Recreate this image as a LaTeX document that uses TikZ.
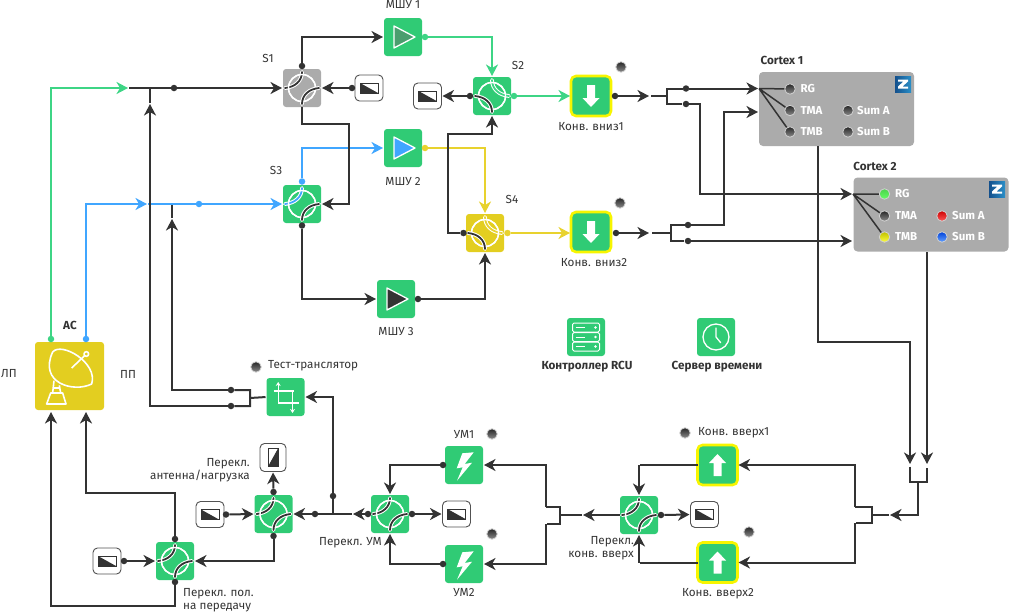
\documentclass[tikz,border=0pt]{standalone}
\usepackage{fontspec}
\setmainfont{Fira Sans}
\usetikzlibrary{arrows.meta, positioning}

\definecolor{boxgreen}{HTML}{30CB75}
\definecolor{wiregreen}{HTML}{3DD585}
\definecolor{wireblue}{HTML}{40A6FF}
\definecolor{wireyellow}{HTML}{E8D22E}
\definecolor{boxgray}{HTML}{ABABAB}
\definecolor{boxyellow}{HTML}{E3CE20}
\definecolor{dark}{HTML}{333333}
\definecolor{amber}{HTML}{F7F500}
\definecolor{ampgreen}{HTML}{4A9E6E}
\definecolor{logoleft}{HTML}{14508C}
\definecolor{logoright}{HTML}{2A8FC8}

\newcommand{\swarcs}[2]{%
  \draw[white,line width=1.4pt] (0,0) circle (13.5);
  \draw[white,line width=3.8pt,line cap=round] #1;
  \draw[#2,line width=1.8pt,line cap=round] #1;
}
\newcommand{\arcTL}{(0,-16) .. controls (0,-7) and (-7,-1) .. (-17,0)}
\newcommand{\arcBR}{(0,16) .. controls (0,7) and (7,1) .. (17,0)}
\newcommand{\arcTR}{(0,-16) .. controls (0,-7) and (7,-1) .. (17,0)}
\newcommand{\arcLB}{(-17,0) .. controls (-7,1) and (0,7) .. (0,16)}

\tikzset{
  x=1pt,y=-1pt,
  >={Stealth[length=11.5pt,width=12pt,inset=3.5pt]},
  wire/.style={dark,line width=2pt,shorten >=1pt},
  green wire/.style={wire,wiregreen},
  blue wire/.style={wire,wireblue},
  yellow wire/.style={wire,wireyellow},
  dot/.style={circle,fill=dark,inner sep=0pt,minimum size=6.5pt},
  label/.style={font=\fontsize{11.7}{13.5}\selectfont,text=dark,inner sep=0pt},
  bold label/.style={label,font=\fontsize{11.7}{13.5}\selectfont\bfseries},
  cortex label/.style={font=\fontsize{11.5}{13}\selectfont\bfseries,text=white,inner sep=0pt,anchor=west},
  box node/.style={rectangle,rounded corners=3pt,fill=boxgreen,minimum size=38pt,inner sep=0pt,outer sep=0pt},
  sw a/.style n args={3}{box node,fill=#1,path picture={
    \begin{scope}[shift={(path picture bounding box.center)},sharp corners]
      \swarcs{\arcTL}{#2}\swarcs{\arcBR}{#3}
    \end{scope}}},
  sw b/.style n args={3}{box node,fill=#1,path picture={
    \begin{scope}[shift={(path picture bounding box.center)},sharp corners]
      \swarcs{\arcTR}{#2}\swarcs{\arcLB}{#3}
    \end{scope}}},
  amp node/.style={box node,path picture={
    \draw[white,fill=#1,line width=1.3pt,sharp corners,line join=round,shift={(path picture bounding box.center)}]
      (-9,-11) -- (12,0) -- (-9,11) -- cycle;}},
  conv down node/.style={box node,rounded corners=5pt,draw=amber,line width=2.6pt,minimum size=40pt,path picture={
    \fill[white,sharp corners,shift={(path picture bounding box.center)}]
      (-4,-11) -- (4,-11) -- (4,2) -- (8.5,2) -- (0,11) -- (-8.5,2) -- (-4,2) -- cycle;}},
  conv up node/.style={box node,rounded corners=5pt,draw=amber,line width=2.6pt,minimum size=40pt,path picture={
    \fill[white,sharp corners,shift={(path picture bounding box.center)}]
      (-4,11) -- (4,11) -- (4,-2) -- (8.5,-2) -- (0,-11) -- (-8.5,-2) -- (-4,-2) -- cycle;}},
  bolt node/.style={box node,path picture={
    \fill[white,sharp corners,shift={(path picture bounding box.center)}]
      (9.7,-12.7) -- (-1.7,-11.7) -- (-7.3,3.3) -- (-1.3,2.3) -- (-7,15.7) -- (8,-2.3) -- (0.7,-1) -- cycle;}},
  load node/.style={rectangle,rounded corners=4.5pt,draw=dark!85,fill=white,line width=.9pt,
    minimum width=28pt,minimum height=26pt,inner sep=0pt,outer sep=0pt,path picture={
    \begin{scope}[shift={(path picture bounding box.center)},sharp corners]
      \fill[dark] (-9,-5) -- (9,5) -- (-9,5) -- cycle;
      \draw[dark,line width=.9pt] (-9,-5) rectangle (9,5);
    \end{scope}}},
  load up node/.style={rectangle,rounded corners=4.5pt,draw=dark!85,fill=white,line width=.9pt,
    minimum width=26pt,minimum height=28pt,inner sep=0pt,outer sep=0pt,path picture={
    \begin{scope}[shift={(path picture bounding box.center)},sharp corners]
      \fill[dark] (5,-9) -- (5,9) -- (-5,9) -- cycle;
      \draw[dark,line width=.9pt] (-5,-9) rectangle (5,9);
    \end{scope}}},
  cortex node/.style={rectangle,rounded corners=4pt,fill=boxgray,minimum width=155pt,minimum height=74pt,inner sep=0pt,outer sep=0pt},
  led/.style 2 args={circle,minimum size=10.5pt,inner sep=0pt,draw=black!18,line width=.8pt,
    top color=#1,bottom color=#2},
  gray led/.style={led={black!85}{black!45}},
  logo/.style={rectangle,minimum size=16pt,inner sep=0pt,left color=logoleft,right color=logoright,path picture={
    \begin{scope}[shift={(path picture bounding box.center)},sharp corners]
      \fill[white] (-5,-4.5) -- (5,-4.5) -- (5,-2.5) -- (-.5,2.5) -- (5,2.5) -- (5,4.5) -- (-5,4.5) -- (-5,2.5) -- (.5,-2.5) -- (-5,-2.5) -- cycle;
    \end{scope}}},
}

\begin{document}
\begin{tikzpicture}
  \useasboundingbox (0,0) rectangle (1009,613);

  \node[box node,fill=boxyellow,minimum width=69pt,minimum height=68pt] (ac) at (69.5,376) {};
  \begin{scope}[shift={(30,338)},x=.3333pt,y=-.3333pt,white,line width=1.6pt,line join=round]
    \draw (68,42) .. controls (95,10) and (205,75) .. (185,138) .. controls (130,165) and (25,135) .. (68,42);
    \draw (125,90) -- (165,52);
    \draw (169,48) circle (7);
    \draw (72,128) -- (68,165) (88,142) -- (92,165) (70,150) -- (90,150);
    \draw (62,165) -- (98,165) -- (108,198) -- (50,198) -- cycle;
  \end{scope}

  \node[sw a={boxgray}{dark}{dark}] (s1) at (302,88) {};
  \node[sw b={boxgreen}{wiregreen}{dark}] (s2) at (492,96) {};
  \node[sw a={boxgreen}{wireblue}{dark}] (s3) at (302,204) {};
  \node[sw b={boxyellow}{wireyellow}{dark}] (s4) at (485,233) {};
  \node[sw a={boxgreen}{dark}{dark}] (swant) at (273.5,514) {};
  \node[sw a={boxgreen}{dark}{dark}] (swpol) at (175,561) {};
  \node[sw a={boxgreen}{dark}{dark}] (swum) at (390,514) {};
  \node[sw a={boxgreen}{dark}{dark}] (swup) at (639,515) {};

  \node[amp node=ampgreen] (msu1) at (403,37) {};
  \node[amp node=wireblue] (msu2) at (403,148) {};
  \node[amp node=dark] (msu3) at (396,299) {};

  \node[conv down node] (down1) at (591,96) {};
  \node[conv down node] (down2) at (591,232) {};
  \node[conv up node] (up1) at (717.5,465) {};
  \node[conv up node] (up2) at (717.5,562.5) {};

  \node[bolt node] (um1) at (464,465) {};
  \node[bolt node] (um2) at (464,564) {};

  \node[load node] (load1) at (369,88) {};
  \node[load node] (load2) at (427.5,96) {};
  \node[load node] (load3) at (210,514.5) {};
  \node[load node] (load4) at (107,561) {};
  \node[load node] (load5) at (456.5,514) {};
  \node[load node] (load6) at (704.5,514.5) {};
  \node[load up node] (load7) at (273,457.5) {};

  \node[box node] (test) at (285.5,397) {};
  \begin{scope}[shift={(test.center)},white,line width=1.2pt]
    \draw (-12,-6) -- (8,-6);
    \draw[-{Stealth[length=4pt,width=5pt]}] (-7.3,6) -- (-7.3,-15);
    \draw (-7.3,6) -- (13,6);
    \draw[-{Stealth[length=4pt,width=5pt]}] (7,-6) -- (7,16);
  \end{scope}

  \node[box node] (rcu) at (586,337) {};
  \begin{scope}[shift={(rcu.center)},white,line width=1pt]
    \draw[rounded corners=1.5pt] (-13.5,-14) rectangle (13.5,-5);
    \draw[rounded corners=1.5pt] (-13.5,-4.5) rectangle (13.5,4.5);
    \draw[rounded corners=1.5pt] (-13.5,5) rectangle (13.5,14);
    \draw (-10.5,-9.5) -- (-1.5,-9.5) (-10.5,0) -- (-1.5,0) (-10.5,9.5) -- (-1.5,9.5);
    \fill (9.5,-9.5) circle (1.3) (9.5,0) circle (1.3) (9.5,9.5) circle (1.3);
  \end{scope}

  \node[box node] (clock) at (716,337) {};
  \begin{scope}[shift={(clock.center)},white,line width=1.3pt]
    \draw (0,0) circle (13);
    \draw[line cap=round] (0,-9) -- (0,0) -- (4.7,5.7);
  \end{scope}

  \node[cortex node] (cortex1) at (836.5,109) {};
  \node[cortex node] (cortex2) at (931,214.5) {};
  \node[logo] (logo1) at (903,84) {};
  \node[logo] (logo2) at (997,189) {};

  \coordinate (hub1) at (759,88.5);
  \coordinate (hub2) at (853,194);
  \coordinate (hub1b) at (759,112);
  \coordinate (acl) at (51,411);
  \coordinate (acr) at (86,411);

  \node[dot,fill=wiregreen] (acg) at (51,339) {};
  \node[dot,fill=wireblue] (acb) at (86,339) {};
  \coordinate (greenend) at (129,88);
  \coordinate (blueend) at (148,204);
  \node[dot] (in1) at (174,88) {};
  \node[dot,fill=wireblue] (in3) at (199,204) {};

  \node[dot] (s1t) at (302,66) {};
  \node[dot] (s1r) at (352,88) {};
  \node[dot,fill=wireblue] (s3t) at (302,181.5) {};
  \node[dot] (s3b) at (302,225.5) {};
  \node[dot,fill=wiregreen] (m1r) at (425,37) {};
  \node[dot,fill=wireyellow] (m2r) at (425,148) {};
  \node[dot] (m3r) at (418,299) {};
  \node[dot,fill=wiregreen] (s2r) at (514,96) {};
  \node[dot] (s2l) at (470,96) {};
  \node[dot] (s4l) at (463.5,233) {};
  \node[dot,fill=wireyellow] (s4r) at (507.5,233) {};

  \draw[green wire,->] (acg) |- (greenend);
  \draw[blue wire,->] (acb) |- (blueend);
  \draw[blue wire,->] (blueend) -- (s3.west);
  \draw[blue wire,->] (s3t) |- (msu2.west);
  \draw[green wire,->] (m1r) -| (s2.north);
  \draw[yellow wire,->] (m2r) -| (s4.north);
  \draw[green wire,->] (s2r) -- (down1.west);
  \draw[yellow wire,->] (s4r) -- (down2.west |- s4r);

  \draw[wire,->] (greenend) -- (s1.west);
  \draw[wire,->] (s1t) |- (msu1.west);
  \draw[wire,->] (s1r) -- (s1.east);
  \draw[wire,->] (s1.south) -- (302,124) -- (349,124) |- (s3.east);
  \draw[wire,->] (s2l) -- (load2.east);
  \draw[wire,->] (s4l) -- (448,233) |- (492,134) -- (s2.south);
  \draw[wire,->] (s3b) |- (msu3.west);
  \draw[wire,->] (m3r) -| (s4.south);

  \node[dot] (d1r) at (615,96) {};
  \node[dot] (d2r) at (616,233) {};
  \coordinate (d1a) at (650,96);
  \coordinate (d2a) at (650,233);
  \node[dot] (f1t) at (686,88.5) {};
  \node[dot] (f1b) at (686,104) {};
  \node[dot] (f2t) at (688,225) {};
  \node[dot] (f2b) at (688,241) {};
  \draw[wire,->] (d1r) -- (d1a);
  \draw[wire,->] (d2r) -- (d2a);
  \draw[wire] (651,96) -- (667,96) (f1t) -| (667,104) -- (f1b);
  \draw[wire] (652,233) -- (671,233) (f2t) -| (671,241) -- (f2b);
  \draw[wire,->] (f1t) -- (hub1);
  \draw[wire,->] (f1b) -- (700,104) |- (hub2);
  \draw[wire,->] (f2t) -- (724,225) |- (hub1b);
  \draw[wire,->] (f2b) -- (853,241);

  \node[gray led] (rg1) at (790,89) {};
  \node[gray led] (tma1) at (790,110.5) {};
  \node[gray led] (tmb1) at (790,132) {};
  \node[gray led] (suma1) at (848,110.5) {};
  \node[gray led] (sumb1) at (848,132) {};
  \node[led={green!75!black!70!white}{green!60!white}] (rg2) at (884.5,194) {};
  \node[gray led] (tma2) at (884.5,216) {};
  \node[led={yellow!75!black}{yellow!75!white}] (tmb2) at (884.5,237) {};
  \node[led={red!80!black}{red!65!white}] (suma2) at (942,216) {};
  \node[led={blue!70!cyan!85!black}{cyan!40!blue!60!white}] (sumb2) at (942,237) {};
  \draw[dark,line width=1.5pt] (hub1) -- (rg1) (hub1) -- (tma1) (hub1) -- (tmb1);
  \draw[dark,line width=1.5pt] (hub2) -- (rg2) (hub2) -- (tma2) (hub2) -- (tmb2);

  \node[cortex label] (trg1) at (800.5,89) {RG};
  \node[cortex label] (ttma1) at (800.5,110.5) {TMA};
  \node[cortex label] (ttmb1) at (800.5,132) {TMB};
  \node[cortex label] (tsuma1) at (857,110.5) {Sum A};
  \node[cortex label] (tsumb1) at (857,132) {Sum B};
  \node[cortex label] (trg2) at (895,194) {RG};
  \node[cortex label] (ttma2) at (895,216) {TMA};
  \node[cortex label] (ttmb2) at (895,237) {TMB};
  \node[cortex label] (tsuma2) at (952,216) {Sum A};
  \node[cortex label] (tsumb2) at (952,237) {Sum B};

  \coordinate (cortexdrop) at (910,465);
  \coordinate (cortexdropb) at (927,465);
  \node[dot] (f3t) at (231,390) {};
  \node[dot] (f3b) at (231,406) {};
  \coordinate (rx1) at (150,103);
  \coordinate (rx3) at (172,218);
  \draw[wire,->] (f3b) -- (150,406) -- (rx1);
  \draw[wire] (rx1) -- (150,88);
  \draw[wire,->] (f3t) -- (172,390) -- (rx3);
  \draw[wire] (rx3) -- (172,204);
  \draw[wire] (f3t) -| (250,406) -- (f3b) (250,398) -- (test.west);

  \node[dot] (ttb) at (333,496) {};
  \node[dot] (n1) at (315,514) {};
  \node[dot] (umw) at (368,514) {};
  \coordinate (uma) at (352,514);
  \draw[wire,->] (umw) -- (uma);
  \draw[wire,->] (uma) -- (swant.east);
  \draw[wire,->] (333,514) -- (ttb) |- (test.east);

  \node[dot] (a1) at (226,514.5) {};
  \node[dot] (a2) at (273.5,492) {};
  \node[dot] (a3) at (273.5,536) {};
  \node[dot] (p1) at (124,561) {};
  \node[dot] (p2) at (175,539) {};
  \node[dot] (p3) at (175,582) {};
  \draw[wire,->] (a1) -- (swant.west);
  \draw[wire,->] (a2) -- (load7.south);
  \draw[wire,->] (a3) |- (swpol.east);
  \draw[wire,->] (p1) -- (swpol.west);
  \draw[wire,->] (p2) -- (175,493) -| (acr);
  \draw[wire,->] (p3) -- (175,606) -| (acl);

  \node[dot] (u1) at (443,465) {};
  \node[dot] (u2) at (443,564) {};
  \node[dot] (u3) at (412,514) {};
  \node[dot] (u4) at (661,515) {};
  \draw[wire,->] (u1) -| (swum.north);
  \draw[wire,->] (u2) -| (swum.south);
  \draw[wire,->] (u3) -- (load5.west);
  \draw[wire,->] (u4) -- (load6.west);

  \coordinate (fa) at (560,515);
  \coordinate (fb) at (872,515);
  \coordinate (fba) at (582,515);
  \coordinate (fbb) at (889,515);
  \draw[wire,->] (546,507) -- (546,465) -- (um1.east);
  \draw[wire,->] (546,524) -- (546,564) -- (um2.east);
  \draw[wire] (546,507) -- (560,507) -- (560,524) -- (546,524);
  \draw[wire,->] (swup.west) -- (fba);
  \draw[wire] (fba) -- (fa);
  \draw[wire] (up1.west) -- (639,465);
  \draw[wire,->] (639,465) -- (swup.north);
  \draw[wire] (up2.west) -- (639,562.5);
  \draw[wire,->] (639,562.5) -- (swup.south);
  \draw[wire,->] (855,507) -- (855,465) -- (up1.east);
  \draw[wire,->] (855,523) -- (855,562.5) -- (up2.east);
  \draw[wire] (855,507) -- (872,507) -- (872,523) -- (855,523);
  \draw[wire,->] (918,482) -- (918,515) -- (fbb);
  \draw[wire] (fbb) -- (fb);
  \draw[wire] (910,466.5) -- (910,482) -- (927,482) -- (927,466.5);
  \draw[wire,->] (818,146) -- (818,342) -| (cortexdrop);
  \draw[wire,->] (927,252) -- (cortexdropb);

  \node[gray led] (ld1) at (621,67) {};
  \node[gray led] (ld2) at (620,203) {};
  \node[gray led] (ld3) at (685,433) {};
  \node[gray led] (ld4) at (749,532) {};
  \node[gray led] (ld5) at (256,367) {};
  \node[gray led] (ld6) at (492,434) {};
  \node[gray led] (ld7) at (492,534) {};

  \node[label] (tm1) at (403,5) {МШУ 1};
  \node[label] (tm2) at (403,182) {МШУ 2};
  \node[label] (tm3) at (396,332) {МШУ 3};
  \node[label] (ts1) at (268,58) {S1};
  \node[label] (ts2) at (518,65) {S2};
  \node[label] (ts3) at (276,170) {S3};
  \node[label] (ts4) at (512,199) {S4};
  \node[label] (td1) at (591,127) {Конв. вниз1};
  \node[label] (td2) at (594,263) {Конв. вниз2};
  \node[bold label] (tc1) at (782,60) {Cortex 1};
  \node[bold label] (tc2) at (875,166) {Cortex 2};
  \node[bold label] (tac) at (70,325) {АС};
  \node[label,anchor=east] (tlp) at (17,374) {ЛП};
  \node[label] (tpp) at (128,374) {ПП};
  \node[bold label] (trcu) at (587,367) {Контроллер RCU};
  \node[bold label] (tclock) at (717,367) {Сервер времени};
  \node[label,anchor=west] (ttest) at (268,366) {Тест-транслятор};
  \node[label,align=right,anchor=east] (tant) at (250,470) {Перекл.\\антенна/нагрузка};
  \node[label,align=left,anchor=west] (tpol) at (183,600) {Перекл. пол.\\на передачу};
  \node[label,anchor=east] (tum) at (382,543) {Перекл. УМ};
  \node[label,align=right,anchor=east] (tup) at (634,548) {Перекл.\\конв. вверх};
  \node[label] (tu1) at (464,435) {УМ1};
  \node[label] (tu2) at (464,593) {УМ2};
  \node[label,anchor=west] (tv1) at (698,433) {Конв. вверх1};
  \node[label] (tv2) at (718,594) {Конв. вверх2};
\end{tikzpicture}
\end{document}
